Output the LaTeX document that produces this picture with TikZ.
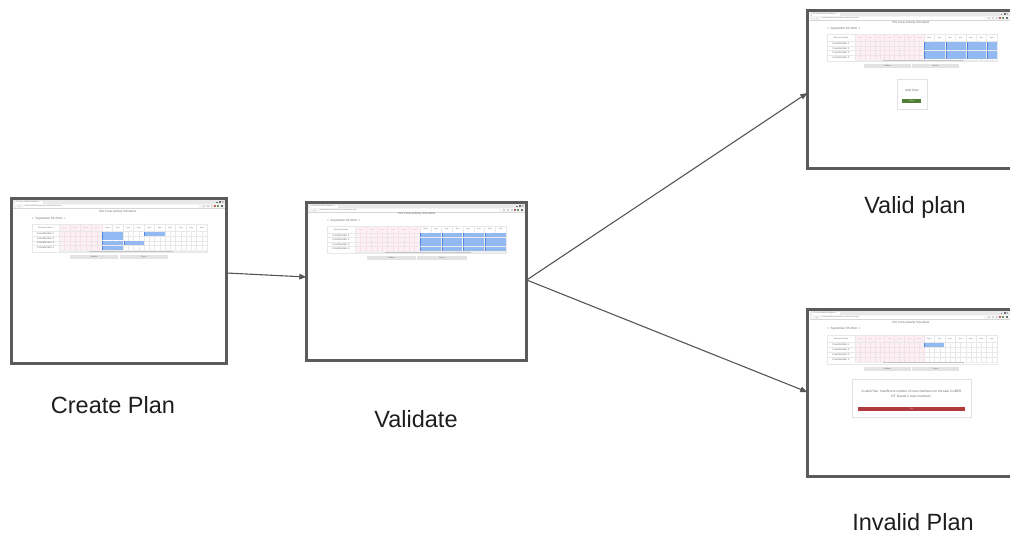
\documentclass[tikz,border=0pt]{standalone}
\usepackage{fontspec}
\setmainfont{Liberation Sans}
\usetikzlibrary{arrows.meta}

\definecolor{framegray}{HTML}{5B5B5B}
\definecolor{arrowgray}{HTML}{555555}
\definecolor{captiontext}{HTML}{1E1E1E}
\definecolor{tabstrip}{HTML}{E9E9E9}
\definecolor{addrstrip}{HTML}{F5F5F5}
\definecolor{chromeline}{HTML}{D6D6D6}
\definecolor{tinytext}{HTML}{6E6E6E}
\definecolor{pinkcell}{HTML}{FDF0F4}
\definecolor{pinkline}{HTML}{F6E0E7}
\definecolor{pinktext}{HTML}{D9A8B8}
\definecolor{gridline}{HTML}{E8E8E8}
\definecolor{taskblue}{HTML}{93B9F3}
\definecolor{taskedge}{HTML}{4F86DD}
\definecolor{btngray}{HTML}{E3E3E3}
\definecolor{scrolltrack}{HTML}{EEEEEE}
\definecolor{scrollthumb}{HTML}{C4C4C4}
\definecolor{okgreen}{HTML}{4E7F34}
\definecolor{errred}{HTML}{B03A3C}
\definecolor{dialogline}{HTML}{E2E2E2}

\tikzset{
  screenframe/.style={rectangle, draw=framegray, line width=2.6pt, fill=white,
    inner sep=0pt, outer sep=0pt},
  flow/.style={draw=arrowgray, line width=1.1pt, -{Triangle[length=7pt,width=5.5pt]}},
  caption/.style={font=\fontsize{23.5}{28}\selectfont, text=captiontext,
    anchor=base, inner sep=0pt},
  tiny/.style={font=\fontsize{2.5}{2.9}\selectfont, text=tinytext, inner sep=0pt},
  tinytitle/.style={font=\fontsize{3}{3.5}\selectfont, text=tinytext, inner sep=0pt},
}

% browser tab strip and address bar: #1 left, #2 top, #3 right
\newcommand\browserchrome[3]{%
  \fill[tabstrip] (#1,#2) rectangle (#3,#2+4.5);
  \fill[white] (#1+2,#2+0.9) rectangle (#1+30,#2+4.5);
  \node[tiny, anchor=west, font=\fontsize{1.8}{2}\selectfont] at (#1+3,#2+2.8) {ISS Crew Activity Scheduler \ ×};
  % window controls
  \draw[tinytext, line width=0.25pt] (#3-9,#2+2.6) -- ++(1.2,0);
  \draw[tinytext, line width=0.25pt] (#3-6.2,#2+1.7) rectangle ++(1.1,1.1);
  \draw[tinytext, line width=0.25pt] (#3-3.2,#2+1.7) -- ++(1.1,1.1) (#3-3.2,#2+2.8) -- ++(1.1,-1.1);
  \fill[addrstrip] (#1,#2+4.5) rectangle (#3,#2+9);
  \node[tiny, anchor=west, font=\fontsize{2}{2}\selectfont] at (#1+1.5,#2+6.8) {←\ →\ C};
  \fill[white] (#1+11,#2+5.5) rectangle (#3-26,#2+8.1);
  \node[tiny, anchor=west, font=\fontsize{1.7}{2}\selectfont] at (#1+12,#2+6.8) {localhost:8080/crew-activity-scheduler/index.html};
  \fill[chromeline] (#3-22,#2+5.7) rectangle ++(1.6,1.8);
  \fill[chromeline] (#3-18,#2+5.7) rectangle ++(1.6,1.8);
  \fill[chromeline] (#3-14,#2+5.7) rectangle ++(1.6,1.8);
  \fill[errred!80] (#3-11,#2+5.7) rectangle ++(1.6,1.8);
  \fill[okgreen!80] (#3-8,#2+5.7) rectangle ++(1.6,1.8);
  \fill[tinytext] (#3-4,#2+5.7) rectangle ++(1.6,1.8);
  \draw[chromeline, line width=0.3pt] (#1,#2+9) -- (#3,#2+9);
}

% schedule grid: #1 left, #2 end of name column, #3 end of past (pink) part,
% #4 right, #5 top, #6 bottom of header, #7 row height,
% #8 hour labels of the pink part, #9 hour labels of the white part
\newcommand\schedtable[9]{%
  \pgfmathsetmacro\rowend{#6+4*#7}%
  \foreach \lab [count=\k] in {#8} {\xdef\npink{\k}}%
  \foreach \lab [count=\k] in {#9} {\xdef\nwhite{\k}}%
  \pgfmathsetmacro\pw{(#3-#2)/\npink}%
  \pgfmathsetmacro\ww{(#4-#3)/\nwhite}%
  \fill[pinkcell] (#2,#5) rectangle (#3,\rowend);
  \foreach \r in {0,...,3}
    \draw[gridline, line width=0.25pt] (#1,{#6+\r*#7}) -- (#4,{#6+\r*#7});
  \foreach \k in {1,...,\npink} {
    \draw[pinkline, line width=0.25pt] ({#2+(\k-0.5)*\pw},#6) -- ({#2+(\k-0.5)*\pw},\rowend);
    \draw[pinkline, line width=0.25pt] ({#2+\k*\pw},#5) -- ({#2+\k*\pw},\rowend);
  }
  \foreach \k in {1,...,\nwhite} {
    \draw[gridline, line width=0.25pt] ({#3+(\k-0.5)*\ww},#6) -- ({#3+(\k-0.5)*\ww},\rowend);
    \draw[gridline, line width=0.25pt] ({#3+\k*\ww},#5) -- ({#3+\k*\ww},\rowend);
  }
  \draw[gridline, line width=0.25pt] (#2,#5) -- (#2,\rowend);
  \foreach \lab [count=\k] in {#8}
    \node[tiny, text=pinktext, font=\fontsize{1.8}{2}\selectfont] at ({#2+(\k-0.5)*\pw},{(#5+#6)/2}) {\lab};
  \foreach \lab [count=\k] in {#9}
    \node[tiny, font=\fontsize{1.8}{2}\selectfont] at ({#3+(\k-0.5)*\ww},{(#5+#6)/2}) {\lab};
  \node[tiny, font=\fontsize{2}{2.4}\selectfont] at ({(#1+#2)/2},{(#5+#6)/2}) {Resource Name};
  \foreach \r in {1,...,4}
    \node[tiny] at ({(#1+#2)/2},{#6+(\r-0.5)*#7}) {CrewMember \r};
  \fill[scrolltrack] (#2,\rowend+0.4) rectangle (#4,\rowend+1.7);
  \fill[scrollthumb] ({#2+0.2*(#4-#2)},\rowend+0.6) rectangle ({#2+0.77*(#4-#2)},\rowend+1.5);
  \draw[gridline, line width=0.3pt] (#1,#5) rectangle (#4,\rowend+2);
}

% one task block: #1 start, #2 end, #3 row top, #4 row height
\newcommand\taskbar[4]{%
  \fill[taskblue] (#1,#3+0.35) rectangle (#2,#3+#4-0.35);
  \draw[taskedge, line width=0.45pt] (#1+0.25,#3+0.35) -- (#1+0.25,#3+#4-0.35);
}

% flat grey button: #1 left, #2 top, #3 right, #4 bottom, #5 text
\newcommand\uibutton[5]{%
  \fill[btngray] (#1,#2) rectangle (#3,#4);
  \node[tiny, font=\fontsize{1.9}{2}\selectfont] at ({(#1+#3)/2},{(#2+#4)/2}) {#5};
}

\begin{document}
\begin{tikzpicture}[x=1pt, y=-1pt]
\useasboundingbox (0,0) rectangle (1010,533);
\clip (0,0) rectangle (1010,533);

% ---------- screen 1: plan being created ----------
\node[screenframe, minimum width=215.4pt, minimum height=165.4pt] (f1) at (119,281) {};
\browserchrome{12.6}{199.6}{225.4}
\node[tinytitle] at (118,211.5) {ISS Crew Activity Scheduler};
\node[tinytitle, anchor=west] at (32,218.5) {<\ \ September 05 2018\ \ >};
\schedtable{32}{59}{102}{207}{224}{231.5}{4.6}{8am,9am,10am,11am}{12pm,1pm,2pm,3pm,4pm,5pm,6pm,7pm,8pm,9pm}
\taskbar{102}{123}{231.5}{4.6}
\taskbar{144}{165}{231.5}{4.6}
\taskbar{102}{123}{236.1}{4.6}
\taskbar{102}{123}{240.7}{4.6}
\taskbar{124}{144}{240.7}{4.6}
\taskbar{102}{123}{245.3}{4.6}
\uibutton{70}{255}{118}{259.3}{Validate}
\uibutton{120}{255}{168}{259.3}{Export}

% ---------- screen 2: plan under validation ----------
\node[screenframe, minimum width=220.4pt, minimum height=158.4pt] (f2) at (416.5,281.5) {};
\browserchrome{307.6}{203.6}{525.4}
\node[tinytitle] at (417,213.5) {ISS Crew Activity Scheduler};
\node[tinytitle, anchor=west] at (327,220.5) {<\ \ September 05 2018\ \ >};
\schedtable{327}{355}{420}{506}{226}{233}{4.5}{6am,7am,8am,9am,10am,11am}{12pm,1pm,2pm,3pm,4pm,5pm,6pm,7pm}
\foreach \r in {0,...,3} {
  \taskbar{420}{440.5}{233+\r*4.5}{4.5}
  \taskbar{441.5}{461.5}{233+\r*4.5}{4.5}
  \taskbar{462.5}{483.5}{233+\r*4.5}{4.5}
  \taskbar{484.5}{506}{233+\r*4.5}{4.5}
}
\uibutton{367}{256}{416}{260.3}{Validate}
\uibutton{417}{256}{467}{260.3}{Export}

% ---------- screen 3: plan accepted ----------
\node[screenframe, minimum width=210.4pt, minimum height=158.4pt] (f3) at (912.5,89.5) {};
\browserchrome{809.6}{11.6}{1010}
\node[tinytitle] at (911,22.5) {ISS Crew Activity Scheduler};
\node[tinytitle, anchor=west] at (827,29) {<\ \ September 05 2018\ \ >};
\schedtable{827}{855}{924}{997}{34}{41.5}{4.5}{5am,6am,7am,8am,9am,10am,11am}{12pm,1pm,2pm,3pm,4pm,5pm,6pm}
\foreach \r in {0,...,3} {
  \taskbar{924}{944.5}{41.5+\r*4.5}{4.5}
  \taskbar{945.5}{965.5}{41.5+\r*4.5}{4.5}
  \taskbar{966.5}{985.5}{41.5+\r*4.5}{4.5}
  \taskbar{986.5}{997}{41.5+\r*4.5}{4.5}
}
\uibutton{864}{64}{911}{68.3}{Validate}
\uibutton{912}{64}{959}{68.3}{Export}
\node[rectangle, draw=dialogline, line width=0.4pt, fill=white, minimum width=30pt,
  minimum height=30pt, inner sep=0pt] (okbox) at (912,94) {};
\node[tinytitle, font=\fontsize{3}{3.5}\selectfont] at (912,90.5) {Valid Plan!};
\node[rectangle, fill=okgreen, minimum width=19pt, minimum height=4pt, inner sep=0pt,
  text=white, font=\fontsize{1.9}{2}\selectfont] (okbtn) at (911.5,101) {Okay};

% ---------- screen 4: plan rejected ----------
\node[screenframe, minimum width=212.4pt, minimum height=167.4pt] (f4) at (913.5,393) {};
\browserchrome{809.6}{310.6}{1010}
\node[tinytitle] at (911,322.5) {ISS Crew Activity Scheduler};
\node[tinytitle, anchor=west] at (827,329) {<\ \ September 05 2018\ \ >};
\schedtable{827}{855}{924}{997}{335}{342.5}{4.8}{5am,6am,7am,8am,9am,10am,11am}{12pm,1pm,2pm,3pm,4pm,5pm,6pm}
\taskbar{924}{944}{342.5}{4.8}
\uibutton{864}{367}{911}{371.3}{Validate}
\uibutton{912}{367}{959}{371.3}{Export}
\node[rectangle, draw=dialogline, line width=0.4pt, fill=white, minimum width=119pt,
  minimum height=38pt, inner sep=0pt] (errbox) at (911.5,398) {};
\node[tinytitle, font=\fontsize{3.2}{5.4}\selectfont, align=center] at (911.5,393.7)
  {Invalid Plan: Insufficient number of crew members for the task CUBER\\RT. Needs 2 crew members.};
\node[rectangle, fill=errred, minimum width=107pt, minimum height=4pt, inner sep=0pt,
  text=white, font=\fontsize{1.9}{2}\selectfont] (errbtn) at (911.5,409) {Ok};

% ---------- flow between the screens ----------
\draw[flow] ([yshift=8pt]f1.east) -- ([yshift=4.5pt]f2.west);
\draw[flow] ([yshift=1.5pt]f2.east) -- ([yshift=-3.5pt]f3.west);
\draw[flow] ([yshift=1.5pt]f2.east) -- ([yshift=1pt]f4.west);

% ---------- captions ----------
\node[caption] (c1) at (113,413.5) {Create Plan};
\node[caption] (c2) at (416,427.5) {Validate};
\node[caption] (c3) at (915,213.5) {Valid plan};
\node[caption] (c4) at (913,530) {Invalid Plan};
\end{tikzpicture}
\end{document}
